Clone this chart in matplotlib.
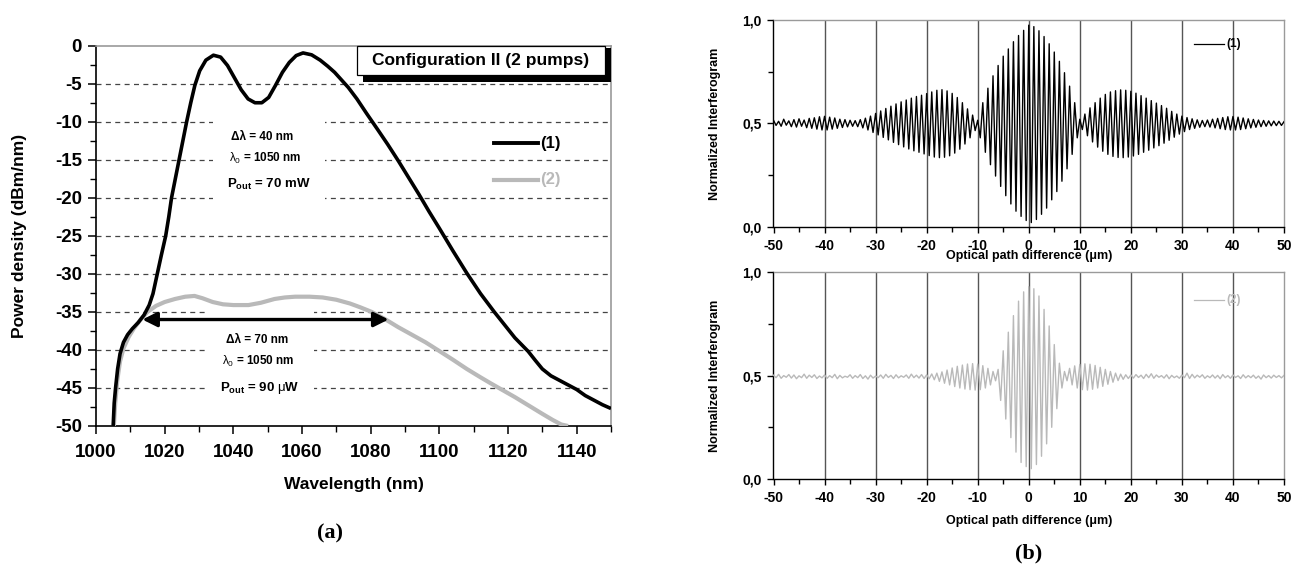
import numpy as np
import matplotlib
matplotlib.use("Agg")
import matplotlib.pyplot as plt
from matplotlib.patches import Rectangle
from matplotlib.ticker import MultipleLocator, FixedLocator

plt.rcParams['font.family'] = ['Liberation Sans', 'DejaVu Sans']
plt.rcParams['mathtext.fontset'] = 'custom'
plt.rcParams['mathtext.rm'] = 'Liberation Sans'
plt.rcParams['mathtext.bf'] = 'Liberation Sans:bold'
plt.rcParams['mathtext.it'] = 'Liberation Sans:italic'

# ---------------- data: spectra (panel a) ----------------
wl_1 = [1005.0, 1005.3, 1005.7, 1006.3, 1007.0, 1008.0, 1009.2, 1010.6, 1012.3, 1014.0,
        1015.5, 1016.6, 1017.7, 1019.0, 1020.3, 1021.2, 1022.0, 1023.1, 1024.2, 1025.3,
        1026.4, 1027.6, 1028.8, 1030.2, 1032.0, 1034.2, 1036.3, 1038.3, 1040.3, 1042.3,
        1044.3, 1046.3, 1048.3, 1050.3, 1052.3, 1054.3, 1056.3, 1058.3, 1060.3, 1062.8,
        1065.3, 1067.5, 1069.5, 1071.5, 1073.5, 1076.0, 1078.8, 1082.0, 1085.0, 1088.0,
        1091.0, 1094.0, 1097.0, 1100.0, 1104.0, 1108.0, 1112.0, 1116.0, 1119.0, 1122.0,
        1125.9, 1128.0, 1130.0, 1132.5, 1135.0, 1137.5, 1140.0, 1142.5, 1145.0, 1147.5,
        1150.0]
p_1 = [-50.0, -47.0, -45.0, -42.5, -40.5, -39.0, -38.0, -37.2, -36.4, -35.4,
       -34.1, -32.6, -30.3, -27.6, -25.0, -22.5, -20.0, -17.5, -15.0, -12.5,
       -10.0, -7.5, -5.2, -3.3, -1.9, -1.25, -1.5, -2.6, -4.2, -5.8,
       -7.0, -7.5, -7.5, -6.8, -5.2, -3.5, -2.2, -1.3, -0.95, -1.2,
       -1.9, -2.7, -3.5, -4.5, -5.5, -7.0, -8.9, -11.0, -13.0, -15.1,
       -17.3, -19.5, -21.8, -24.0, -27.0, -29.9, -32.6, -35.0, -36.7, -38.4,
       -40.2, -41.4, -42.5, -43.4, -44.0, -44.6, -45.2, -46.0, -46.6, -47.2,
       -47.7]

wl_2 = [1005.2, 1005.6, 1006.2, 1007.0, 1008.0, 1009.5, 1011.0, 1013.0, 1015.0, 1017.5,
        1020.0, 1023.0, 1026.0, 1028.7, 1031.0, 1034.0, 1037.0, 1040.0, 1044.4, 1048.0,
        1052.0, 1055.0, 1058.0, 1062.2, 1066.0, 1070.0, 1074.0, 1077.0, 1080.3, 1084.0,
        1088.0, 1092.0, 1096.0, 1099.5, 1104.0, 1108.0, 1112.0, 1115.0, 1118.5, 1122.0,
        1126.0, 1130.0, 1133.0, 1135.5, 1137.5]
p_2 = [-50.0, -47.0, -44.0, -41.5, -39.8, -38.3, -37.2, -36.0, -35.0, -34.2,
       -33.7, -33.3, -33.0, -32.9, -33.2, -33.7, -34.0, -34.1, -34.1, -33.8,
       -33.3, -33.1, -33.0, -33.0, -33.1, -33.4, -33.9, -34.4, -35.0, -35.9,
       -37.0, -38.0, -39.0, -40.0, -41.3, -42.5, -43.6, -44.4, -45.3, -46.2,
       -47.3, -48.4, -49.2, -49.8, -50.0]

# ---------------- data: interferograms (panel b) ----------------
# fringe maxima at integer OPD values, fringe minima at half-integer values
opd_max = np.arange(-50, 50.01, 1.0)
opd_min = np.arange(-49.5, 49.51, 1.0)

ifg1_max = [0.515, 0.51, 0.52, 0.512, 0.518, 0.522, 0.516, 0.524, 0.527, 0.532,
            0.534, 0.53, 0.526, 0.52, 0.518, 0.515, 0.513, 0.518, 0.525, 0.535,
            0.548, 0.56, 0.572, 0.583, 0.594, 0.604, 0.613, 0.622, 0.63, 0.636,
            0.644, 0.652, 0.66, 0.663, 0.657, 0.645, 0.625, 0.6, 0.57, 0.54,
            0.515, 0.6, 0.67, 0.73, 0.78, 0.825, 0.86, 0.895, 0.925, 0.95,
            0.975, 0.968, 0.948, 0.92, 0.885, 0.845, 0.8, 0.745, 0.68, 0.6,
            0.52, 0.545, 0.575, 0.6, 0.622, 0.64, 0.652, 0.658, 0.662, 0.66,
            0.655, 0.646, 0.634, 0.622, 0.61, 0.598, 0.586, 0.573, 0.558, 0.545,
            0.535, 0.528, 0.522, 0.517, 0.514, 0.516, 0.52, 0.524, 0.528, 0.532,
            0.533, 0.53, 0.526, 0.522, 0.519, 0.516, 0.514, 0.512, 0.511, 0.51,
            0.508]
ifg1_min = [0.49, 0.486, 0.491, 0.484, 0.482, 0.486, 0.479, 0.476, 0.472, 0.468,
            0.468, 0.472, 0.476, 0.48, 0.483, 0.486, 0.484, 0.478, 0.468, 0.456,
            0.444, 0.432, 0.42, 0.408, 0.397, 0.386, 0.376, 0.367, 0.36, 0.352,
            0.344, 0.337, 0.334, 0.336, 0.343, 0.356, 0.375, 0.4, 0.43, 0.465,
            0.43, 0.36, 0.3, 0.245, 0.195, 0.15, 0.11, 0.075, 0.05, 0.03,
            0.02, 0.035, 0.06, 0.09, 0.13, 0.17, 0.22, 0.28, 0.35, 0.43,
            0.47, 0.44, 0.41, 0.385, 0.365, 0.35, 0.34, 0.335, 0.334, 0.337,
            0.342, 0.35, 0.36, 0.37, 0.381, 0.392, 0.404, 0.418, 0.433, 0.448,
            0.46, 0.47, 0.476, 0.481, 0.484, 0.482, 0.478, 0.474, 0.47, 0.468,
            0.468, 0.47, 0.474, 0.478, 0.481, 0.484, 0.486, 0.488, 0.489, 0.49]

ifg2_max = [0.502, 0.506, 0.5, 0.505, 0.503, 0.499, 0.507, 0.502, 0.504, 0.498,
            0.503, 0.5, 0.506, 0.501, 0.497, 0.504, 0.5, 0.505, 0.499, 0.502,
            0.498, 0.503, 0.506, 0.501, 0.504, 0.499, 0.503, 0.507, 0.502, 0.505,
            0.504, 0.508, 0.512, 0.518, 0.527, 0.537, 0.545, 0.551, 0.556, 0.558,
            0.556, 0.548, 0.535, 0.52, 0.53, 0.62, 0.71, 0.79, 0.86, 0.905,
            0.93, 0.92, 0.885, 0.82, 0.74, 0.65, 0.56, 0.52, 0.535, 0.547,
            0.554, 0.557, 0.555, 0.549, 0.54, 0.53, 0.52, 0.512, 0.507, 0.504,
            0.503, 0.505, 0.502, 0.506, 0.509, 0.503, 0.5, 0.504, 0.501, 0.498,
            0.503, 0.512, 0.506, 0.502, 0.504, 0.499, 0.503, 0.501, 0.505, 0.5,
            0.503, 0.499, 0.504, 0.5, 0.502, 0.498, 0.503, 0.5, 0.502, 0.5,
            0.501]
ifg2_min = [0.49, 0.487, 0.492, 0.488, 0.485, 0.49, 0.487, 0.491, 0.486, 0.489,
            0.487, 0.49, 0.485, 0.489, 0.492, 0.487, 0.49, 0.486, 0.483, 0.488,
            0.49, 0.487, 0.491, 0.486, 0.489, 0.492, 0.487, 0.49, 0.488, 0.486,
            0.485, 0.48, 0.472, 0.463, 0.455, 0.447, 0.44, 0.435, 0.432, 0.43,
            0.432, 0.44, 0.455, 0.475, 0.38, 0.29, 0.2, 0.13, 0.08, 0.06,
            0.05, 0.07, 0.11, 0.17, 0.25, 0.34, 0.44, 0.475, 0.455, 0.44,
            0.432, 0.43, 0.434, 0.44, 0.448, 0.458, 0.468, 0.476, 0.482, 0.486,
            0.488, 0.491, 0.486, 0.49, 0.487, 0.492, 0.488, 0.485, 0.49, 0.487,
            0.49, 0.486, 0.489, 0.492, 0.487, 0.49, 0.488, 0.485, 0.49, 0.487,
            0.491, 0.486, 0.489, 0.49, 0.487, 0.483, 0.49, 0.488, 0.491, 0.489]

wl_ticks = [1000, 1020, 1040, 1060, 1080, 1100, 1120, 1140]
p_ticks = [0, -5, -10, -15, -20, -25, -30, -35, -40, -45, -50]
opd_ticks = [-50, -40, -30, -20, -10, 0, 10, 20, 30, 40, 50]
ifg_ticks = [0.0, 0.5, 1.0]
ifg_ticklabels = ['0,0', '0,5', '1,0']


def interleave(xa, ya, xb, yb):
    x = np.empty(len(xa) + len(xb))
    y = np.empty(len(ya) + len(yb))
    x[0::2] = xa
    x[1::2] = xb
    y[0::2] = ya
    y[1::2] = yb
    return x, y


W, H = 1294, 573
fig = plt.figure(figsize=(W / 100, H / 100), dpi=100)

GRAY = '#b9b9b9'

# ================= panel (a) =================
ax = fig.add_axes([96 / W, 1 - 426 / H, 515 / W, 380.3 / H])
ax.set_xlim(1000, 1150)
ax.set_ylim(-50, 0)

for v in p_ticks[1:-1]:
    ax.axhline(v, color='#444444', lw=0.9, ls=(0, (4, 3.5)), zorder=1)

# white masks behind the annotation texts
ax.add_patch(Rectangle((1034.2, -22.5), 32.5, 13.8, facecolor='white', edgecolor='none', zorder=1.5))
ax.add_patch(Rectangle((1032.1, -46.8), 31.3, 11.9, facecolor='white', edgecolor='none', zorder=1.5))

ax.plot(wl_2, p_2, color=GRAY, lw=3.0, zorder=3, solid_capstyle='butt', solid_joinstyle='round')
ax.plot(wl_1, p_1, color='black', lw=2.6, zorder=4, solid_capstyle='butt', solid_joinstyle='round')

ax.annotate('', xy=(1013.5, -36.0), xytext=(1085.2, -36.0),
            arrowprops=dict(arrowstyle='<|-|>', color='black', lw=2.4,
                            mutation_scale=22, shrinkA=0, shrinkB=0), zorder=5)

tf = dict(ha='center', va='center', fontsize=8.5, fontweight='bold', zorder=6)
ax.text(1048.5, -11.95, 'Δλ = 40 nm', **tf)
ax.text(1049.2, -14.8, r'$\mathrm{\lambda}_0$ = 1050 nm', **tf)
ax.text(1050.2, -18.3, r'$\mathbf{P_{out}}$ = 70 mW', ha='center', va='center',
        fontsize=9.5, fontweight='bold', zorder=6)
ax.text(1047.0, -38.65, 'Δλ = 70 nm', **tf)
ax.text(1047.2, -41.5, r'$\mathrm{\lambda}_0$ = 1050 nm', **tf)
ax.text(1047.7, -45.0, r'$\mathbf{P_{out}}$ = 90 $\mathrm{\mu}$W', ha='center', va='center',
        fontsize=9.5, fontweight='bold', zorder=6)

# legend
ax.plot([1115.8, 1128.8], [-12.8, -12.8], color='black', lw=2.8, zorder=6)
ax.text(1129.3, -12.8, '(1)', ha='left', va='center', fontsize=12, fontweight='bold', color='black')
ax.plot([1115.8, 1128.8], [-17.65, -17.65], color=GRAY, lw=3.0, zorder=6)
ax.text(1129.3, -17.65, '(2)', ha='left', va='center', fontsize=12, fontweight='bold', color=GRAY)

# configuration box with shadow
ax.add_patch(Rectangle((1077.7, -4.75), 72.3, 4.4, facecolor='black', edgecolor='none', zorder=7,
                       clip_on=False))
ax.add_patch(Rectangle((1075.9, -3.85), 72.4, 3.75, facecolor='white', edgecolor='black', lw=0.9,
                       zorder=8, clip_on=False))
ax.text(1112.1, -1.95, 'Configuration II (2 pumps)', ha='center', va='center', fontsize=12.5,
        fontweight='bold', zorder=9)

ax.xaxis.set_major_locator(FixedLocator(wl_ticks))
ax.xaxis.set_minor_locator(MultipleLocator(10))
ax.yaxis.set_major_locator(FixedLocator(p_ticks))
ax.yaxis.set_minor_locator(MultipleLocator(2.5))
ax.set_xticklabels([str(t) for t in wl_ticks])
ax.set_yticklabels([str(t) for t in p_ticks])
ax.tick_params(axis='both', which='major', direction='out', length=6, width=1.1,
               labelsize=13.5, top=False, right=False)
ax.tick_params(axis='both', which='minor', direction='out', length=4, width=1.0,
               top=False, right=False)
ax.tick_params(axis='x', which='major', pad=7)
ax.tick_params(axis='y', which='major', pad=4)
for lab in ax.get_xticklabels() + ax.get_yticklabels():
    lab.set_fontweight('bold')
for s in ['left', 'bottom']:
    ax.spines[s].set_color('black')
    ax.spines[s].set_linewidth(1.2)
for s in ['top', 'right']:
    ax.spines[s].set_color('#9a9a9a')
    ax.spines[s].set_linewidth(1.2)

fig.text(20 / W, 1 - 236 / H, 'Power density (dBm/nm)', rotation=90, ha='center', va='center',
         fontsize=12.5, fontweight='bold')
fig.text(353.5 / W, 1 - 485 / H, 'Wavelength (nm)', ha='center', va='center',
         fontsize=12.5, fontweight='bold')
fig.text(330 / W, 1 - 533 / H, '(a)', ha='center', va='center', fontsize=16,
         fontweight='bold', family='Liberation Serif')

# ================= panel (b) =================
def style_ifg(a, ylabel_y):
    a.set_xlim(-50, 50)
    a.set_ylim(0, 1)
    for v in opd_ticks[1:-1]:
        a.axvline(v, color='#555555', lw=1.0, zorder=1)
    a.xaxis.set_major_locator(FixedLocator(opd_ticks))
    a.xaxis.set_minor_locator(MultipleLocator(5))
    a.yaxis.set_major_locator(FixedLocator(ifg_ticks))
    a.yaxis.set_minor_locator(MultipleLocator(0.25))
    a.set_xticklabels([str(t) for t in opd_ticks])
    a.set_yticklabels(ifg_ticklabels)
    a.tick_params(axis='both', which='major', direction='out', length=4.5, width=1.0,
                  labelsize=10)
    a.tick_params(axis='both', which='minor', direction='out', length=3.5, width=1.0)
    a.tick_params(axis='x', which='major', pad=4)
    a.tick_params(axis='y', which='major', pad=4)
    for lab in a.get_xticklabels() + a.get_yticklabels():
        lab.set_fontweight('bold')
    for s in ['left', 'bottom']:
        a.spines[s].set_color('black')
        a.spines[s].set_linewidth(1.0)
    for s in ['top', 'right']:
        a.spines[s].set_color('#9a9a9a')
        a.spines[s].set_linewidth(1.0)
    fig.text(715 / W, ylabel_y, 'Normalized Interferogram', rotation=90, ha='center',
             va='center', fontsize=9, fontweight='bold')


axb1 = fig.add_axes([773.5 / W, 1 - 226.7 / H, 510.5 / W, 206.7 / H])
x1, y1 = interleave(opd_max, ifg1_max, opd_min, ifg1_min)
axb1.plot(x1, y1, color='black', lw=1.0, zorder=3)
style_ifg(axb1, 1 - 123.4 / H)
axb1.plot([32.4, 38.3], [0.883, 0.883], color='black', lw=0.9)
axb1.text(38.8, 0.883, '(1)', ha='left', va='center', fontsize=8.5, fontweight='bold')
fig.text(1028.8 / W, 1 - 256 / H, 'Optical path difference (\u03bcm)', ha='center', va='center',
         fontsize=9, fontweight='bold')

axb2 = fig.add_axes([773.5 / W, 1 - 479 / H, 510.5 / W, 206.8 / H])
x2, y2 = interleave(opd_max, ifg2_max, opd_min, ifg2_min)
axb2.plot(x2, y2, color=GRAY, lw=1.0, zorder=3)
style_ifg(axb2, 1 - 375.6 / H)
axb2.plot([32.4, 38.3], [0.864, 0.864], color=GRAY, lw=0.9)
axb2.text(38.8, 0.864, '(2)', ha='left', va='center', fontsize=8.5, fontweight='bold', color=GRAY)
fig.text(1028.8 / W, 1 - 521 / H, 'Optical path difference (\u03bcm)', ha='center', va='center',
         fontsize=9, fontweight='bold')
fig.text(1029 / W, 1 - 553 / H, '(b)', ha='center', va='center', fontsize=16,
         fontweight='bold', family='Liberation Serif')

fig.savefig('out.png', dpi=100, facecolor='white')
